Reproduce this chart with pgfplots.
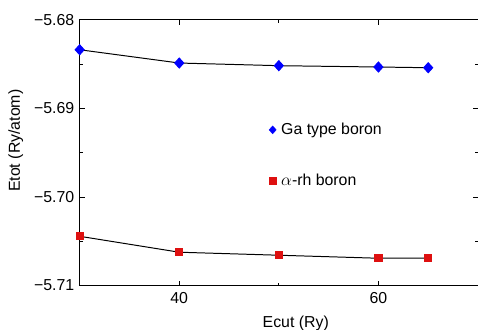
\documentclass[border=0pt]{standalone}
\usepackage{pgfplots}
\pgfplotsset{compat=1.18}
\usepackage{fontspec}
\setmainfont{Liberation Sans}
\definecolor{mred}{RGB}{222,16,16}
\definecolor{mblue}{RGB}{0,0,255}
\begin{document}
\fontsize{16}{19}\selectfont
\begin{tikzpicture}
\begin{axis}[
  scale only axis,
  width=400bp, height=266.7bp,
  xmin=30, xmax=70,
  ymin=-5.71, ymax=-5.68,
  xtick={40,60},
  minor xtick={50,70},
  ytick={-5.71,-5.70,-5.69,-5.68},
  yticklabels={−5.71,−5.70,−5.69,−5.68},
  minor ytick={-5.705,-5.695,-5.685},
  tick align=inside,
  major tick length=5bp,
  minor tick length=3bp,
  tick style={black, line width=0.9pt},
  axis line style={line width=1pt},
  /pgf/number format/assume math mode=true,
  ticklabel style={font=\fontsize{16}{19}\selectfont},
  xticklabel style={yshift=-1bp},
  xlabel={Ecut (Ry)},
  ylabel={Etot (Ry/atom)},
  label style={font=\fontsize{16}{19}\selectfont},
  xlabel style={xshift=17bp, yshift=-1.5bp},
  ylabel style={xshift=12bp},
  legend style={draw=none, fill=none, at={(axis cs:49.0,-5.6915)}, anchor=north west,
    font=\fontsize{16}{19}\selectfont, row sep=35bp, inner sep=0pt,
    nodes={inner xsep=5bp, inner ysep=1bp}},
  legend cell align=left,
]
\addplot[black, line width=1pt, mark=diamond*, mark size=5bp, mark options={mblue, draw=mblue, xscale=1.2}, forget plot] coordinates {
 (30,-5.68337) (40,-5.68487) (50,-5.68517) (60,-5.68532) (65,-5.68540)};
\addplot[black, line width=1pt, mark=square*, mark size=3.6bp, mark options={mred, draw=mred}, forget plot] coordinates {
 (30,-5.70444) (40,-5.70624) (50,-5.70658) (60,-5.70692) (65,-5.70692)};
\addlegendimage{only marks, mark=diamond*, mark size=4bp, mblue, mark options={xscale=1.2}}
\addlegendentry{Ga type boron}
\addlegendimage{only marks, mark=square*, mark size=3.2bp, mred}
\addlegendentry{$\alpha$-rh boron}
\end{axis}
\pgfresetboundingbox
\path (current axis.south west) ++(-80bp,-44bp) coordinate (bbA);
\path (current axis.north east) ++(-2bp,20bp) coordinate (bbB);
\useasboundingbox (bbA) rectangle (bbB);
\end{tikzpicture}
\end{document}
